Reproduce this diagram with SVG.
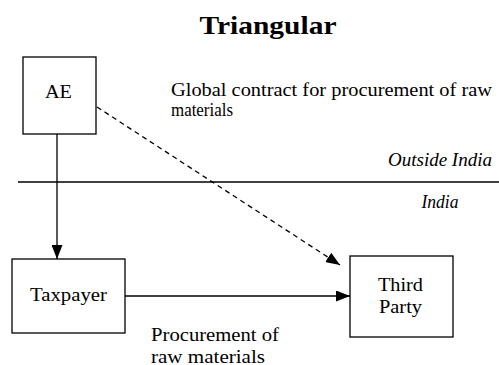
<svg xmlns="http://www.w3.org/2000/svg" width="499" height="365" viewBox="0 0 499 365">
<defs>
<style>
.ln{stroke:#000;stroke-width:1.3;fill:none}
.box{fill:#fff;stroke:#000;stroke-width:1.3}
</style>
<marker id="ah" viewBox="0 0 14 11" refX="14" refY="5.5" markerWidth="14" markerHeight="11" markerUnits="userSpaceOnUse" orient="auto">
<path d="M0,0 L14,5.5 L0,11 Z" fill="#000"/>
</marker>
</defs>
<rect width="499" height="365" fill="#fff"/>
<g font-family="'Liberation Serif', serif" font-size="18" fill="#000">
<text x="268" y="34" font-size="25" font-weight="bold" text-anchor="middle" textLength="137" lengthAdjust="spacingAndGlyphs">Triangular</text>
<g id="connectors">
<line class="ln" x1="18" y1="182" x2="499" y2="182"/>
<line class="ln" x1="57" y1="134" x2="57" y2="259" marker-end="url(#ah)"/>
<line class="ln" x1="97" y1="107" x2="340" y2="265" stroke-dasharray="5,4" marker-end="url(#ah)"/>
<line class="ln" x1="125" y1="296" x2="350" y2="296" marker-end="url(#ah)"/>
</g>
<g id="ae">
<rect class="box" x="23" y="57" width="73" height="77"/>
<text x="58.5" y="98" text-anchor="middle" textLength="27" lengthAdjust="spacingAndGlyphs">AE</text>
</g>
<g id="taxpayer">
<rect class="box" x="12" y="259" width="113" height="74"/>
<text x="68.5" y="301" text-anchor="middle" textLength="77" lengthAdjust="spacingAndGlyphs">Taxpayer</text>
</g>
<g id="third-party">
<rect class="box" x="350" y="256" width="103" height="81"/>
<text x="400.5" y="290.5" text-anchor="middle" textLength="45" lengthAdjust="spacingAndGlyphs">Third</text>
<text x="400.5" y="313" text-anchor="middle" textLength="43" lengthAdjust="spacingAndGlyphs">Party</text>
</g>
<g id="labels">
<text x="171" y="95.5" textLength="321" lengthAdjust="spacingAndGlyphs">Global contract for procurement of raw</text>
<text x="171" y="115.5" textLength="62" lengthAdjust="spacingAndGlyphs">materials</text>
<text x="492" y="166" font-style="italic" text-anchor="end" textLength="104" lengthAdjust="spacingAndGlyphs">Outside India</text>
<text x="440" y="208" font-style="italic" text-anchor="middle" textLength="37" lengthAdjust="spacingAndGlyphs">India</text>
<text x="151" y="340.5" textLength="128" lengthAdjust="spacingAndGlyphs">Procurement of</text>
<text x="151" y="362.5" textLength="114" lengthAdjust="spacingAndGlyphs">raw materials</text>
</g>
</g>
</svg>
